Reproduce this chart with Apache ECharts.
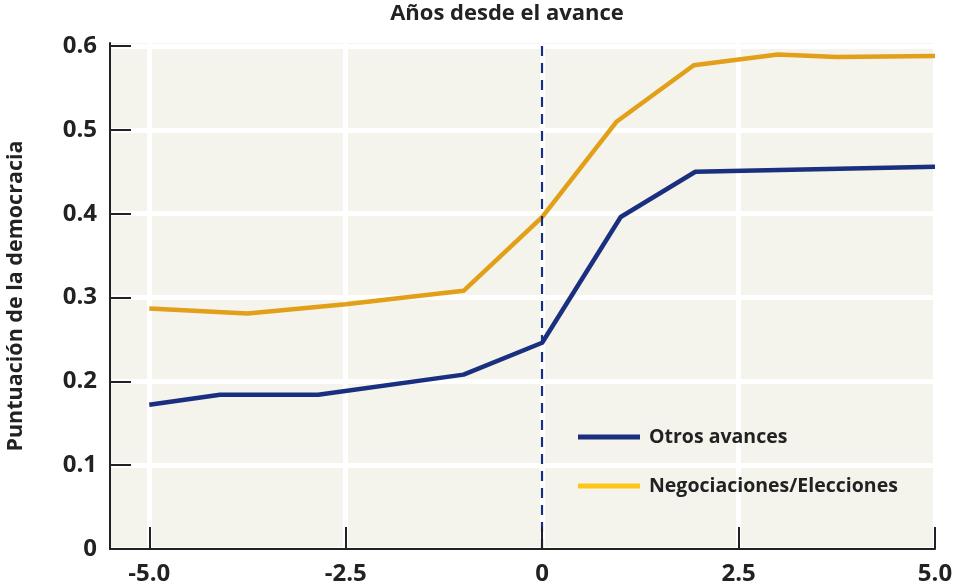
<!DOCTYPE html>
<html><head><meta charset="utf-8">
<script src="https://cdn.jsdelivr.net/npm/echarts@6/dist/echarts.min.js"></script>
<style>html,body{margin:0;padding:0;background:#fff}#c{width:963px;height:588px}</style>
</head><body><div id="c"></div>
<script>
// Data
var seriesNames = ['Otros avances', 'Negociaciones/Elecciones'];
var otrosX = [-5, -4.1, -2.85, -1, 0, 1, 1.95, 5];
var otrosY = [0.172, 0.184, 0.184, 0.208, 0.246, 0.396, 0.450, 0.456];
var negX = [-5, -3.75, -2.5, -1, 0, 0.95, 1.93, 3, 3.75, 5];
var negY = [0.287, 0.281, 0.292, 0.308, 0.396, 0.510, 0.577, 0.590, 0.587, 0.588];
var xTicks = [-5, -2.5, 0, 2.5, 5];
var xTickLabels = ['-5.0', '-2.5', '0', '2.5', '5.0'];
var yTicks = [0, 0.1, 0.2, 0.3, 0.4, 0.5, 0.6];
var yTickLabels = ['0', '0.1', '0.2', '0.3', '0.4', '0.5', '0.6'];
var eventX = 0;

var FONT = 'Open Sans';
var NAVY = '#1B2F80';
var ORANGE = '#E29F18';
var LEG_YELLOW = '#FFC61A';
var TXT = '#222222';

function pairs(xs, ys) { return xs.map(function (x, i) { return [x, ys[i]]; }); }
function lab(ticks, labels) { return function (v) { for (var i = 0; i < ticks.length; i++) if (Math.abs(ticks[i] - v) < 1e-9) return labels[i]; return ''; }; }

var chart = echarts.init(document.getElementById('c'), null, {renderer: 'canvas'});
chart.setOption({
  animation: false,
  backgroundColor: '#ffffff',
  textStyle: {fontFamily: FONT},
  title: {text: 'Años desde el avance', left: 507, top: 3, textAlign: 'center', padding: 0,
    textStyle: {fontFamily: FONT, fontSize: 22, fontWeight: 'bold', color: TXT}},
  grid: {left: 110, right: 28, top: 43, bottom: 39, show: true, backgroundColor: '#F4F3EC', borderWidth: 0,
    containLabel: false, outerBoundsMode: 'none'},
  legend: {
    orient: 'vertical', left: 578, top: 425, itemWidth: 62, itemHeight: 5, itemGap: 25, padding: 0,
    icon: 'rect',
    textStyle: {fontFamily: FONT, fontSize: 19.5, fontWeight: 'bold', color: TXT, lineHeight: 24, padding: [0, 0, 0, 4]},
    data: [
      {name: seriesNames[0], itemStyle: {color: NAVY}},
      {name: seriesNames[1], itemStyle: {color: LEG_YELLOW}}
    ]
  },
  xAxis: [
    {type: 'value', min: -5.5, max: 5, z: 0, position: 'bottom',
      axisLine: {show: false}, axisTick: {show: false, customValues: xTicks},
      axisLabel: {show: false, customValues: xTicks},
      splitLine: {show: true, customValues: xTicks, lineStyle: {color: '#ffffff', width: 5}}},
    {type: 'value', min: -5.5, max: 5, z: 5, position: 'bottom',
      axisLine: {show: true, onZero: false, lineStyle: {color: TXT, width: 2}},
      axisTick: {show: true, inside: true, length: 22, customValues: xTicks, lineStyle: {color: TXT, width: 2}},
      axisLabel: {show: true, customValues: xTicks, formatter: lab(xTicks, xTickLabels), margin: 13,
        fontFamily: FONT, fontSize: 24, fontWeight: 'bold', color: TXT},
      splitLine: {show: false}}
  ],
  yAxis: [
    {type: 'value', min: 0, max: 0.6036, z: 0,
      axisLine: {show: false}, axisTick: {show: false, customValues: yTicks},
      axisLabel: {show: false, customValues: yTicks},
      splitLine: {show: true, customValues: yTicks, lineStyle: {color: '#ffffff', width: 5}}},
    {type: 'value', min: 0, max: 0.6036, z: 5, position: 'left',
      name: 'Puntuación de la democracia', nameLocation: 'middle', nameRotate: 90, nameGap: 83,
      nameTextStyle: {fontFamily: FONT, fontSize: 21.5, fontWeight: 'bold', color: TXT},
      axisLine: {show: true, onZero: false, lineStyle: {color: TXT, width: 2}},
      axisTick: {show: true, inside: true, length: 21, customValues: yTicks, lineStyle: {color: TXT, width: 2}},
      axisLabel: {show: true, customValues: yTicks, formatter: lab(yTicks, yTickLabels), margin: 13,
        fontFamily: FONT, fontSize: 24, fontWeight: 'bold', color: TXT},
      splitLine: {show: false}}
  ],
  series: [
    {name: seriesNames[0], type: 'line', xAxisIndex: 0, yAxisIndex: 0, data: pairs(otrosX, otrosY),
      showSymbol: false, symbol: 'none', lineStyle: {color: NAVY, width: 4.5}, itemStyle: {color: NAVY}, z: 3,
      markLine: {silent: true, symbol: 'none', label: {show: false},
        lineStyle: {color: NAVY, width: 2.2, type: [10, 7]},
        data: [{xAxis: eventX}]}},
    {name: seriesNames[1], type: 'line', xAxisIndex: 0, yAxisIndex: 0, data: pairs(negX, negY),
      showSymbol: false, symbol: 'none', lineStyle: {color: ORANGE, width: 4.5}, itemStyle: {color: ORANGE}, z: 3}
  ]
});
</script></body></html>
